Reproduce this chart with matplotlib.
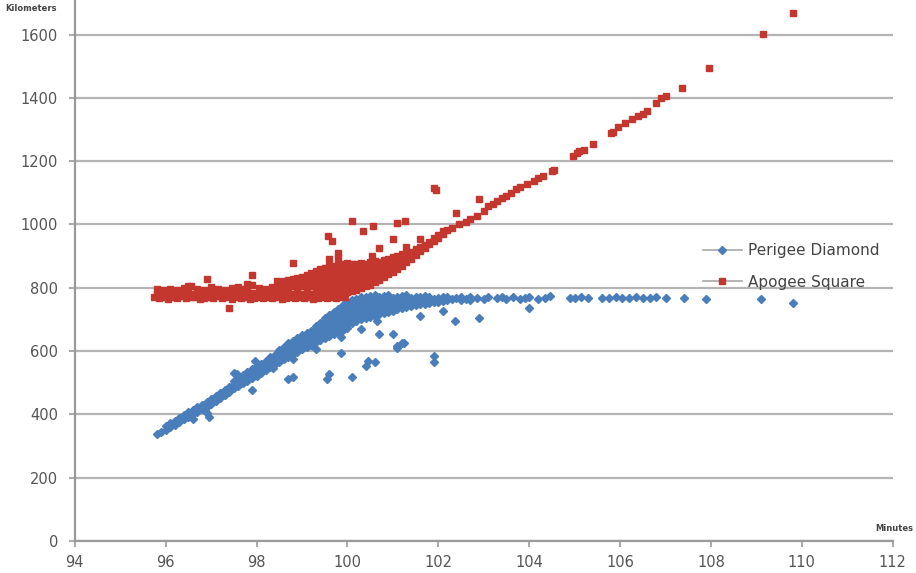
import matplotlib
matplotlib.use("Agg")
import matplotlib.pyplot as plt
from matplotlib.lines import Line2D

# orbital period (minutes) vs altitude (km)
apogee_flat = [
    (95.75,770),(95.85,768),(95.95,772),(96.05,766),(96.15,770),(96.25,768),(96.35,773),(96.45,767),
    (96.55,770),(96.65,772),(96.75,766),(96.85,769),(96.95,771),(97.05,768),(97.15,773),(97.25,767),
    (97.35,770),(97.45,765),(97.55,771),(97.65,768),(97.75,772),(97.85,766),(97.95,769),(98.05,771),
    (98.15,767),(98.25,770),(98.35,768),(98.45,772),(98.55,766),(98.65,769),(98.75,771),(98.85,767),
    (98.95,770),(99.05,768),(99.15,772),(99.25,766),(99.35,769),(99.45,771),(99.55,767),(99.65,770),
    (99.75,768),(99.85,772),(99.95,770),
    (95.8,781),(95.9,784),(96.0,779),(96.1,783),(96.2,786),(96.3,780),(96.4,782),(96.5,785),
    (96.6,779),(96.7,783),(96.8,781),(96.9,786),(97.0,780),(97.1,784),(97.2,782),(97.3,779),
    (97.4,785),(97.5,781),(97.6,783),(97.7,780),(97.8,786),(97.9,782),(98.0,779),(98.1,784),
    (98.2,781),(98.3,783),(98.4,786),(98.5,780),(98.6,782),(98.7,785),(98.8,779),(98.9,783),
    (99.0,781),(99.1,784),(99.2,780),(99.3,782),(99.4,786),(99.5,781),(99.6,783),(99.7,779),
    (99.8,784),(99.9,782),
    (95.8,795),(95.95,792),(96.1,797),(96.25,794),(96.4,799),(96.55,806),(96.7,796),(96.85,793),
    (97.0,801),(97.15,797),(97.3,794),(97.45,800),(97.6,803),(97.75,796),(97.9,809),(98.05,798),
    (98.2,795),(98.35,802),
]

apogee_fan = [
    (98.5,800),(98.5,815),(98.6,806),(98.6,820),(98.7,800),(98.7,812),(98.7,824),
    (98.8,806),(98.8,818),(98.8,828),(98.9,800),(98.9,814),(98.9,830),
    (99.0,806),(99.0,820),(99.0,834),(99.1,800),(99.1,814),(99.1,828),(99.1,840),
    (99.2,806),(99.2,820),(99.2,834),(99.2,846),
    (99.3,800),(99.3,814),(99.3,828),(99.3,842),(99.3,852),
    (99.4,806),(99.4,820),(99.4,834),(99.4,848),(99.4,858),
    (99.5,800),(99.5,814),(99.5,828),(99.5,842),(99.5,856),(99.5,864),
    (99.6,806),(99.6,820),(99.6,834),(99.6,848),(99.6,862),(99.6,868),
    (99.7,800),(99.7,814),(99.7,828),(99.7,842),(99.7,856),(99.7,870),
    (99.8,806),(99.8,820),(99.8,834),(99.8,848),(99.8,862),(99.8,874),
    (99.9,796),(99.9,810),(99.9,824),(99.9,838),(99.9,852),(99.9,866),(99.9,876),
    (100.0,786),(100.0,800),(100.0,814),(100.0,828),(100.0,842),(100.0,856),(100.0,870),(100.0,878),
    (100.1,790),(100.1,804),(100.1,818),(100.1,832),(100.1,846),(100.1,860),(100.1,874),
    (100.2,794),(100.2,808),(100.2,822),(100.2,836),(100.2,850),(100.2,864),(100.2,876),
    (100.3,798),(100.3,812),(100.3,826),(100.3,840),(100.3,854),(100.3,868),(100.3,878),
    (100.4,804),(100.4,818),(100.4,832),(100.4,846),(100.4,860),(100.4,874),
    (100.5,810),(100.5,824),(100.5,838),(100.5,852),(100.5,866),(100.5,880),
    (100.6,818),(100.6,832),(100.6,846),(100.6,860),(100.6,874),(100.6,884),
    (100.7,826),(100.7,840),(100.7,854),(100.7,868),(100.7,880),
    (100.8,834),(100.8,848),(100.8,862),(100.8,876),(100.8,888),
    (100.9,842),(100.9,856),(100.9,870),(100.9,884),(100.9,892),
    (101.0,850),(101.0,864),(101.0,878),(101.0,892),(101.0,898),
    (101.1,858),(101.1,872),(101.1,886),(101.1,900),
    (101.2,868),(101.2,882),(101.2,896),(101.2,906),
    (101.3,880),(101.3,894),(101.3,908),(101.4,892),(101.4,904),(101.4,914),
    (101.5,904),(101.5,916),(101.5,922),(101.6,917),(101.6,928),(101.7,926),(101.7,936),
    (101.8,938),(101.8,946),(101.9,948),(101.9,956),(102.0,958),(102.0,966),
    (102.1,970),(102.1,978),(102.2,982),
]

apogee_tail = [
    (102.3,990),(102.45,1001),(102.6,1008),(102.7,1017),(102.85,1027),(103.0,1043),(103.1,1058),
    (103.2,1066),(103.3,1074),(103.4,1083),(103.5,1090),(103.6,1099),(103.7,1112),(103.8,1118),
    (103.95,1128),(104.1,1137),(104.2,1147),(104.3,1153),(104.5,1168),(104.55,1172),(104.97,1215),
    (105.05,1225),(105.1,1231),(105.2,1236),(105.4,1253),(105.8,1288),(105.85,1292),(105.96,1307),
    (106.1,1320),(106.26,1332),(106.4,1342),(106.5,1350),(106.6,1357),(106.8,1383),(106.9,1398),
    (107.0,1405),(107.37,1430),(107.96,1493),(109.15,1603),(109.8,1667),
]

apogee_outliers = [
    (96.5,806),(96.9,828),(97.4,737),(97.8,812),(97.9,840),(98.45,822),(98.8,879),(99.57,964),
    (99.65,948),(99.6,891),(99.8,910),(99.8,894),(100.1,1011),(100.35,980),(100.57,995),
    (100.7,926),(100.55,901),(101.0,954),(101.1,1005),(101.27,1011),(101.3,930),(101.6,954),
    (101.9,1115),(101.95,1109),(102.4,1036),(102.9,1080),
]

perigee_rise = [
    (95.8,338),(95.9,345),(96.0,352),(96.0,362),(96.1,360),(96.1,372),(96.2,368),(96.2,380),
    (96.3,376),(96.3,390),(96.4,385),(96.4,398),(96.5,392),(96.5,406),(96.6,400),(96.6,414),
    (96.7,408),(96.7,422),(96.8,416),(96.8,430),(96.9,424),(96.9,440),(97.0,432),(97.0,448),
    (97.1,442),(97.1,458),(97.2,452),(97.2,468),(97.3,462),(97.3,478),(97.4,472),(97.4,488),
    (97.5,482),(97.5,496),(97.5,506),(97.6,490),(97.6,504),(97.6,514),(97.7,498),(97.7,512),(97.7,524),
    (97.8,506),(97.8,520),(97.8,534),(97.9,514),(97.9,528),(97.9,544),(98.0,522),(98.0,536),(98.0,552),
    (98.1,530),(98.1,544),(98.1,560),(98.2,540),(98.2,554),(98.2,570),(98.3,550),(98.3,564),(98.3,580),
    (98.4,558),(98.4,572),(98.4,588),
    (98.5,566),(98.5,580),(98.5,594),(98.5,604),(98.6,574),(98.6,588),(98.6,602),(98.6,614),
    (98.7,582),(98.7,596),(98.7,610),(98.7,624),(98.8,590),(98.8,604),(98.8,618),(98.8,632),
    (98.9,598),(98.9,612),(98.9,626),(98.9,642),(99.0,606),(99.0,620),(99.0,634),(99.0,650),
    (99.1,612),(99.1,626),(99.1,640),(99.1,656),(99.2,620),(99.2,634),(99.2,648),(99.2,664),
    (99.3,628),(99.3,642),(99.3,656),(99.3,670),(99.3,680),
    (99.4,634),(99.4,648),(99.4,662),(99.4,676),(99.4,690),
    (99.5,640),(99.5,654),(99.5,668),(99.5,682),(99.5,696),(99.5,704),
    (99.6,648),(99.6,662),(99.6,676),(99.6,690),(99.6,704),(99.6,714),
    (99.7,654),(99.7,668),(99.7,682),(99.7,696),(99.7,710),(99.7,724),
    (99.8,660),(99.8,674),(99.8,688),(99.8,702),(99.8,716),(99.8,732),
    (99.9,666),(99.9,680),(99.9,694),(99.9,708),(99.9,722),(99.9,736),(99.9,744),
    (100.0,672),(100.0,686),(100.0,700),(100.0,714),(100.0,728),(100.0,742),(100.0,754),
    (100.1,690),(100.1,704),(100.1,718),(100.1,732),(100.1,746),(100.1,760),
    (100.2,694),(100.2,708),(100.2,722),(100.2,736),(100.2,750),(100.2,764),
]

perigee_flat = [
    (100.3,700),(100.3,714),(100.3,728),(100.3,742),(100.3,756),(100.3,770),
    (100.4,704),(100.4,718),(100.4,732),(100.4,746),(100.4,760),(100.4,772),
    (100.5,708),(100.5,722),(100.5,736),(100.5,750),(100.5,764),(100.5,774),
    (100.6,712),(100.6,726),(100.6,740),(100.6,754),(100.6,766),(100.6,776),
    (100.7,716),(100.7,730),(100.7,744),(100.7,758),(100.7,770),
    (100.8,720),(100.8,734),(100.8,748),(100.8,762),(100.8,774),
    (100.9,724),(100.9,738),(100.9,752),(100.9,764),(100.9,776),
    (101.0,728),(101.0,742),(101.0,756),(101.0,768),(101.1,732),(101.1,746),(101.1,758),(101.1,770),
    (101.2,736),(101.2,750),(101.2,762),(101.2,774),(101.3,740),(101.3,752),(101.3,764),(101.3,776),
    (101.4,742),(101.4,756),(101.4,768),(101.5,746),(101.5,758),(101.5,770),
    (101.6,748),(101.6,760),(101.6,772),(101.7,750),(101.7,762),(101.7,774),
    (101.8,752),(101.8,764),(101.8,772),(101.9,754),(101.9,766),(102.0,756),(102.0,768),
    (102.1,758),(102.1,770),(102.2,760),(102.2,772),(102.3,764),(102.4,768),(102.5,760),(102.5,770),
    (102.6,766),(102.7,762),(102.7,772),(102.85,768),(103.0,765),(103.1,770),(103.3,768),(103.4,772),
    (103.5,766),(103.65,770),(103.8,764),(103.9,768),(104.0,770),(104.2,766),(104.35,768),(104.46,774),
    (104.9,769),(105.0,769),(105.15,771),(105.3,767),(105.6,769),(105.75,768),(105.9,770),(106.05,769),
    (106.2,768),(106.35,770),(106.5,769),(106.65,768),(106.8,770),(107.0,769),(107.4,769),(107.9,765),
    (109.1,765),(109.8,753),
]

perigee_below = [
    (96.6,387),(96.9,403),(96.95,391),(97.5,532),(97.57,529),(97.9,476),(97.96,570),(98.37,545),
    (98.7,513),(98.8,517),(98.74,595),(98.8,576),(99.3,608),(99.5,658),(99.55,513),(99.6,529),
    (99.85,595),(99.85,643),(100.1,517),(100.3,671),(100.4,554),(100.45,570),(100.6,564),
    (100.65,696),(100.7,655),(101.0,655),(101.1,611),(101.1,617),(101.25,624),(101.2,624),
    (101.6,712),(101.9,564),(101.9,586),(102.1,728),(102.37,696),(102.9,706),(104.0,737),
]

yticks = [0, 200, 400, 600, 800, 1000, 1200, 1400, 1600]
xticks = [94, 96, 98, 100, 102, 104, 106, 108, 110, 112]

blue = '#4a7ebb'
red = '#c4372f'
grey = '#9a9a9a'

fig = plt.figure(figsize=(9.16, 5.73), dpi=100)
ax = fig.add_axes([0.0816, 0.0558, 0.893, 0.942])

px, py = zip(*(perigee_rise + perigee_flat + perigee_below))
ax.plot(px, py, linestyle='none', marker='D', ms=4.2, color=blue, mec=blue, zorder=3)
ax_, ay_ = zip(*(apogee_flat + apogee_fan + apogee_tail + apogee_outliers))
ax.plot(ax_, ay_, linestyle='none', marker='s', ms=4.6, color=red, mec=red, zorder=4)

ax.set_xlim(94, 112)
ax.set_ylim(0, 1705)
ax.set_xticks(xticks)
ax.set_yticks(yticks)
ax.grid(axis='y', color='#b4b4b4', lw=1.6)
ax.set_axisbelow(True)
for s in ['top', 'right']:
    ax.spines[s].set_visible(False)
for s in ['left', 'bottom']:
    ax.spines[s].set_color(grey)
    ax.spines[s].set_linewidth(1.6)
ax.tick_params(colors='#555555', labelsize=10.5, length=4, width=1.2)
ax.tick_params(axis='x', color=grey, pad=6)
ax.tick_params(axis='y', color=grey, pad=8)

fig.text(0.006, 0.985, 'Kilometers', fontsize=6, fontweight='bold', color='#444444', va='center')
fig.text(0.956, 0.077, 'Minutes', fontsize=6, fontweight='bold', color='#444444', va='center')

handles = [
    Line2D([0], [0], color='#a8a8a8', lw=1.2, marker='D', ms=4, mfc=blue, mec=blue),
    Line2D([0], [0], color='#a8a8a8', lw=1.2, marker='s', ms=5, mfc=red, mec=red),
]
fig.legend(handles, ['Perigee Diamond', 'Apogee Square'], loc='upper left',
           bbox_to_anchor=(0.752, 0.6), frameon=False, fontsize=11,
           labelcolor='#444444', handlelength=2.6, handletextpad=0.4, labelspacing=1.1)

fig.savefig('out.png', dpi=100)
